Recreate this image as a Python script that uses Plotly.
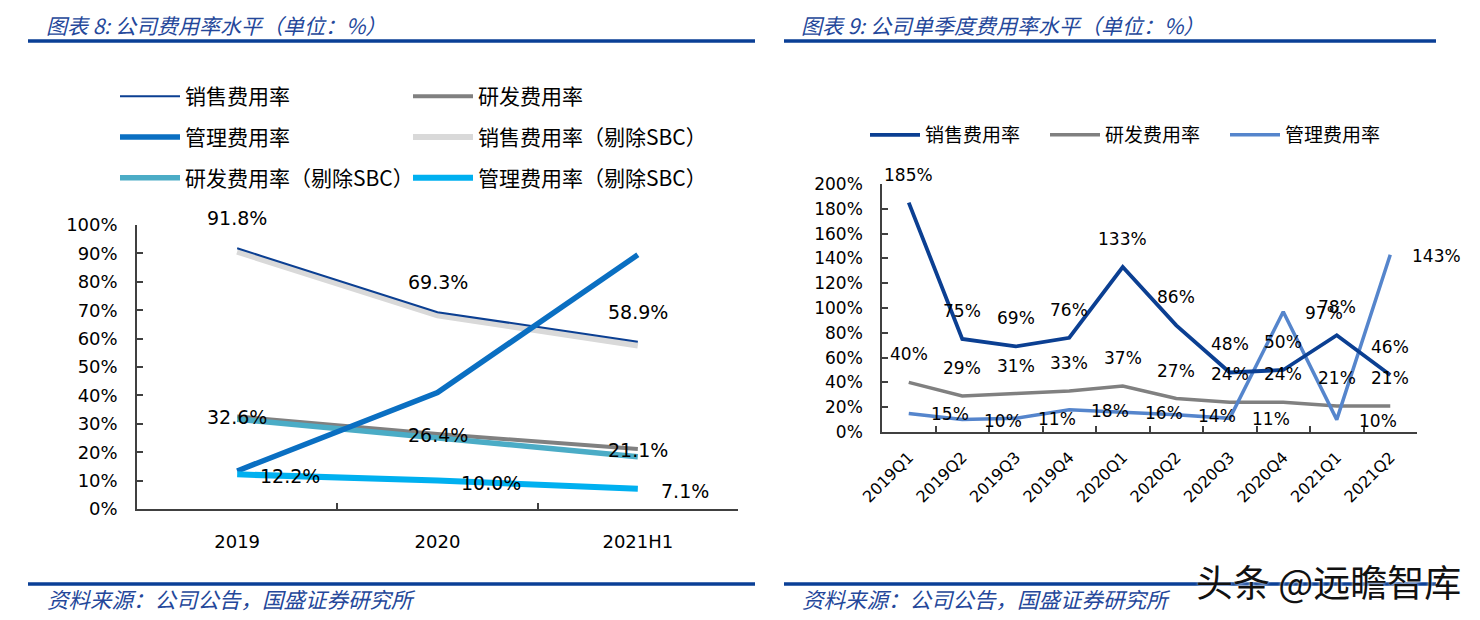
import plotly.graph_objects as go

W, H = 1480, 620

# ---------------- data ----------------
years = ["2019", "2020", "2021H1"]
sales = [91.8, 69.3, 58.9]
rd = [32.6, 26.4, 21.1]
admin = [13.4, 41.0, 89.5]
sales_ex = [90.6, 68.2, 57.6]
rd_ex = [31.6, 25.0, 18.4]
admin_ex = [12.2, 10.0, 7.1]

quarters = ["2019Q1", "2019Q2", "2019Q3", "2019Q4", "2020Q1",
            "2020Q2", "2020Q3", "2020Q4", "2021Q1", "2021Q2"]
q_sales = [185, 75, 69, 76, 133, 86, 48, 50, 78, 46]
q_rd = [40, 29, 31, 33, 37, 27, 24, 24, 21, 21]
q_admin = [15, 10, 11, 18, 16, 14, 11, 97, 10, 143]

left_title = "图表 8: 公司费用率水平（单位：%）"
right_title = "图表 9: 公司单季度费用率水平（单位：%）"
source = "资料来源：公司公告，国盛证券研究所"
watermark = "头条 @远瞻智库"

# ---------------- helpers ----------------
OFF = 8  # page body margin in the browser


def PX(x):
    return (x - OFF) / W


def PY(y):
    return 1 - (y - OFF) / H


CJK = "Noto Sans CJK SC"
NUM = "DejaVu Sans"
BLUE_RULE = "#0a3f96"
TITLE_BLUE = "#24479a"

fig = go.Figure()


def line(x, y, name, color, width, xa, ya, legend, rank):
    fig.add_trace(go.Scatter(
        x=x, y=y, name=name, mode="lines",
        line=dict(color=color, width=width),
        xaxis=xa, yaxis=ya, legend=legend, legendgroup=name + legend,
        legendrank=rank, hoverinfo="x+y+name"))


# left chart (draw order matters for overlap)
line(years, sales_ex, "销售费用率（剔除SBC）", "#d9d9d9", 6, "x", "y", "legend2", 2)
line(years, sales, "销售费用率", "#0b3f92", 2, "x", "y", "legend", 1)
line(years, rd, "研发费用率", "#808080", 4, "x", "y", "legend2", 1)
line(years, rd_ex, "研发费用率（剔除SBC）", "#4bacc6", 5.5, "x", "y", "legend", 3)
line(years, admin, "管理费用率", "#0a6fc2", 5.5, "x", "y", "legend", 2)
line(years, admin_ex, "管理费用率（剔除SBC）", "#00b0f0", 6, "x", "y", "legend2", 3)

# right chart
line(quarters, q_rd, "研发费用率", "#808080", 3.5, "x2", "y2", "legend3", 2)
line(quarters, q_admin, "管理费用率", "#5585cc", 3.5, "x2", "y2", "legend3", 3)
line(quarters, q_sales, "销售费用率", "#0b3f92", 3.8, "x2", "y2", "legend3", 1)

annotations = []


def labels(ys, xref, yref, fmt, size, xanchor="center", xshift=0, yshift=0):
    # x given as category index on the categorical axis
    for i, yv in enumerate(ys):
        annotations.append(dict(
            x=i, y=yv, xref=xref, yref=yref, text=fmt.format(yv),
            showarrow=False, xanchor=xanchor, yanchor="middle",
            xshift=xshift, yshift=yshift,
            font=dict(family=NUM, size=size, color="#000000")))


labels(sales, "x", "y", "{:.1f}%", 19, yshift=30)
labels(rd, "x", "y", "{:.1f}%", 19, yshift=-1)
labels(admin_ex, "x", "y", "{:.1f}%", 19, xanchor="left", xshift=21, yshift=-2)

labels(q_sales, "x2", "y2", "{:.0f}%", 17, yshift=28)
labels(q_rd, "x2", "y2", "{:.0f}%", 17, yshift=28)
labels(q_admin, "x2", "y2", "{:.0f}%", 17, xanchor="left", xshift=20, yshift=-1)

# titles / source / watermark
for xpx, txt in [(45, left_title), (800, right_title)]:
    annotations.append(dict(x=PX(xpx), y=PY(8.5), xref="paper", yref="paper",
                            text=txt, showarrow=False, xanchor="left", yanchor="top",
                            borderpad=0,
                            font=dict(family=CJK, size=21, color=TITLE_BLUE, style="italic")))
    annotations.append(dict(x=PX(xpx), y=PY(598), xref="paper", yref="paper",
                            text=source, showarrow=False, xanchor="left", yanchor="middle",
                            font=dict(family=CJK, size=21.5, color=TITLE_BLUE, style="italic")))

annotations.append(dict(x=PX(1463), y=PY(581), xref="paper", yref="paper",
                        text=watermark, showarrow=False, xanchor="right", yanchor="middle",
                        font=dict(family=CJK, size=37, color="#111111",
                                  shadow="0px 0px 3px #ffffff")))

shapes = []
for x0, x1 in [(28, 755), (784, 1436)]:
    for ypx in (41, 584):
        shapes.append(dict(type="line", xref="paper", yref="paper",
                           x0=PX(x0), x1=PX(x1), y0=PY(ypx), y1=PY(ypx),
                           line=dict(color=BLUE_RULE, width=3.5), layer="below"))

axis_common = dict(showgrid=False, zeroline=False, showline=True,
                   linecolor="#404040", linewidth=1.5, ticks="inside",
                   tickcolor="#404040", tickwidth=1.5, ticklen=6,
                   automargin=False)

fig.update_layout(
    width=W, height=H,
    margin=dict(l=0, r=0, t=0, b=0, autoexpand=False),
    paper_bgcolor="white", plot_bgcolor="white",
    showlegend=True,
    xaxis=dict(**axis_common, domain=[PX(137), PX(738)], anchor="y",
               type="category", tickson="boundaries", range=[-0.5, 2.5],
               tickfont=dict(family=NUM, size=18, color="#000000"),
               ticklabelstandoff=16),
    yaxis=dict(**axis_common, domain=[PY(509), PY(225)], anchor="x",
               range=[0, 100], dtick=10, ticksuffix="%",
               tickfont=dict(family=NUM, size=18, color="#000000"),
               ticklabelstandoff=14),
    xaxis2=dict(**axis_common, domain=[PX(882), PX(1417)], anchor="y2",
                type="category", tickson="boundaries", range=[-0.5, 9.5],
                tickangle=-45,
                tickfont=dict(family=NUM, size=16, color="#000000"),
                ticklabelstandoff=8),
    yaxis2=dict(**axis_common, domain=[PY(432), PY(184)], anchor="x2",
                range=[0, 200], dtick=20, ticksuffix="%",
                tickfont=dict(family=NUM, size=17, color="#000000"),
                ticklabelstandoff=14),
    legend=dict(x=PX(115), y=PY(76), xanchor="left", yanchor="top",
                orientation="v", traceorder="grouped", tracegroupgap=10.5,
                font=dict(family=CJK, size=21, color="#000000"),
                bgcolor="rgba(0,0,0,0)", itemwidth=60),
    legend2=dict(x=PX(408), y=PY(76), xanchor="left", yanchor="top",
                 orientation="v", traceorder="grouped", tracegroupgap=10.5,
                 font=dict(family=CJK, size=21, color="#000000"),
                 bgcolor="rgba(0,0,0,0)", itemwidth=60),
    legend3=dict(x=PX(865), y=PY(116), xanchor="left", yanchor="top",
                 orientation="h", traceorder="normal",
                 font=dict(family=CJK, size=19, color="#000000"),
                 bgcolor="rgba(0,0,0,0)", itemwidth=50,
                 entrywidth=115, entrywidthmode="pixels"),
    annotations=annotations,
    shapes=shapes,
)

fig.write_html("out.html")
